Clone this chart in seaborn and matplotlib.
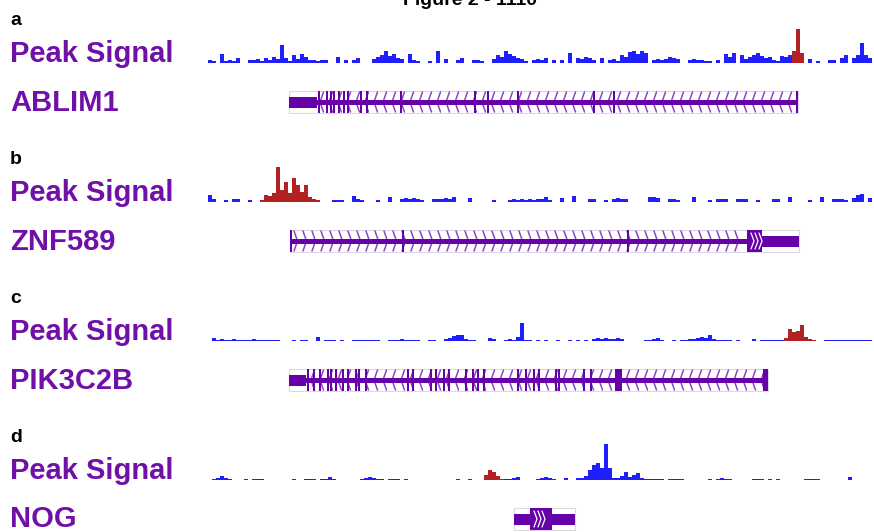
import numpy as np
import pandas as pd
import matplotlib
matplotlib.use("Agg")
import matplotlib.pyplot as plt
from matplotlib.patches import Rectangle
import seaborn as sns

# Estilo general
sns.set_theme(style="white")
plt.rcParams['font.family'] = ['Liberation Sans', 'DejaVu Sans']

BIN = 4  # ancho de cada intervalo de la señal (unidades de ventana)
WINDOW = 664

# Señal de picos por intervalo (a-d)
SIGNAL_A = [3, 2, 0, 9, 2, 3, 2, 5, 0, 0,
            3, 3, 4, 2, 5, 3, 6, 4, 18, 5,
            2, 8, 4, 9, 6, 3, 3, 2, 3, 3,
            0, 0, 6, 0, 3, 0, 3, 5, 0, 0,
            0, 4, 6, 8, 12, 7, 9, 5, 4, 0,
            9, 3, 2, 0, 0, 2, 0, 12, 0, 4,
            0, 0, 3, 5, 0, 0, 3, 3, 2, 0,
            0, 4, 8, 6, 12, 9, 7, 5, 4, 2,
            0, 3, 4, 3, 5, 0, 3, 0, 3, 0,
            10, 0, 5, 4, 6, 5, 3, 0, 5, 0,
            3, 4, 2, 8, 6, 11, 12, 9, 12, 10,
            0, 3, 4, 3, 4, 6, 5, 4, 0, 0,
            3, 4, 3, 3, 2, 2, 0, 3, 0, 9,
            6, 10, 0, 8, 4, 6, 8, 10, 7, 5,
            6, 3, 2, 7, 6, 8, 12, 34, 10, 0,
            4, 0, 2, 0, 0, 3, 3, 0, 5, 8,
            0, 5, 8, 20, 8, 5]
SIGNAL_B = [7, 3, 0, 0, 2, 0, 3, 3, 0, 0,
            2, 0, 0, 2, 7, 6, 9, 35, 12, 20,
            9, 24, 17, 10, 17, 5, 3, 2, 0, 0,
            0, 2, 2, 2, 0, 0, 6, 3, 2, 0,
            0, 0, 2, 0, 0, 5, 0, 0, 3, 4,
            3, 4, 3, 2, 0, 0, 3, 3, 3, 4,
            3, 5, 0, 0, 0, 4, 0, 0, 0, 0,
            0, 2, 0, 0, 0, 2, 3, 2, 3, 2,
            3, 2, 3, 3, 5, 2, 0, 0, 4, 0,
            0, 6, 0, 0, 0, 3, 3, 0, 0, 2,
            0, 3, 4, 3, 3, 0, 0, 0, 0, 0,
            5, 5, 4, 0, 0, 3, 3, 2, 0, 0,
            0, 5, 0, 0, 0, 2, 0, 3, 3, 3,
            0, 0, 3, 3, 3, 0, 0, 2, 0, 0,
            0, 3, 3, 0, 0, 5, 0, 0, 0, 0,
            2, 0, 0, 5, 0, 0, 3, 3, 3, 2,
            0, 4, 7, 8, 0, 4]
SIGNAL_C = [0, 3, 1, 2, 1, 1, 2, 1, 1, 1,
            1, 2, 1, 1, 1, 1, 1, 1, 0, 0,
            0, 1, 0, 1, 1, 0, 0, 4, 0, 1,
            1, 1, 0, 1, 0, 0, 1, 1, 1, 1,
            1, 1, 1, 0, 0, 1, 1, 1, 2, 1,
            1, 1, 1, 0, 0, 1, 1, 0, 0, 2,
            3, 5, 6, 6, 2, 1, 1, 0, 0, 0,
            3, 2, 0, 0, 1, 2, 1, 4, 18, 1,
            1, 0, 1, 0, 1, 0, 0, 1, 0, 0,
            1, 0, 1, 0, 1, 0, 2, 3, 2, 3,
            2, 2, 3, 2, 0, 0, 0, 0, 0, 1,
            1, 2, 3, 1, 0, 0, 1, 0, 1, 1,
            2, 2, 3, 4, 3, 6, 2, 1, 1, 1,
            1, 0, 1, 0, 0, 0, 2, 0, 1, 1,
            1, 1, 1, 1, 3, 12, 9, 10, 16, 4,
            2, 1, 0, 0, 1, 1, 1, 1, 1, 1,
            1, 1, 1, 1, 1, 1]
SIGNAL_D = [0, 1, 2, 4, 2, 1, 0, 0, 0, 1,
            0, 1, 1, 1, 0, 0, 0, 0, 0, 0,
            0, 1, 0, 0, 1, 1, 1, 0, 1, 1,
            3, 1, 0, 0, 0, 0, 0, 0, 1, 2,
            3, 2, 1, 1, 0, 1, 1, 1, 0, 1,
            0, 0, 0, 0, 0, 0, 0, 0, 0, 0,
            0, 0, 1, 0, 0, 1, 0, 0, 0, 5,
            10, 8, 4, 1, 1, 1, 2, 3, 0, 0,
            0, 0, 1, 2, 3, 2, 1, 0, 0, 2,
            0, 0, 2, 2, 4, 10, 15, 17, 12, 36,
            12, 2, 2, 4, 8, 3, 5, 7, 2, 1,
            1, 1, 1, 1, 0, 1, 1, 1, 1, 0,
            0, 0, 0, 0, 0, 1, 0, 1, 2, 1,
            1, 0, 0, 0, 0, 0, 1, 1, 1, 0,
            1, 0, 1, 0, 0, 0, 0, 0, 0, 1,
            1, 1, 1, 0, 0, 0, 0, 0, 0, 0,
            3, 0, 0, 0, 0, 0]

# Picos llamados (intervalos de índices, inclusivos)
PEAKS_A = [(146, 148)]
PEAKS_B = [(13, 27)]
PEAKS_C = [(144, 151)]
PEAKS_D = [(69, 73)]

# Genes: nombre, extensión, hebra, UTR y exones codificantes
GENE_NAMES = ["ABLIM1", "ZNF589", "PIK3C2B", "NOG"]
GENE_SPANS = [(81, 590), (82, 591), (81, 560), (306, 367)]
GENE_STRANDS = ["-", "+", "-", "+"]
UTR_ABLIM1 = [(81, 109)]
CDS_ABLIM1 = [(110, 112), (118, 120), (122, 124), (125, 127), (130, 132), (135, 137),
              (139, 141), (152, 154), (158, 160), (192, 194), (266, 268), (279, 281),
              (309, 311), (385, 387), (405, 407), (588, 590)]
UTR_ZNF589 = [(554, 591)]
CDS_ZNF589 = [(82, 84), (194, 196), (419, 421), (539, 554)]
UTR_PIK3C2B = [(81, 98)]
CDS_PIK3C2B = [(99, 101), (105, 107), (111, 113), (119, 121), (122, 124), (127, 129),
               (134, 136), (139, 141), (147, 149), (150, 152), (157, 159), (199, 201),
               (204, 206), (222, 224), (227, 229), (235, 237), (240, 242), (257, 259),
               (264, 266), (269, 271), (275, 277), (309, 311), (317, 319), (325, 327),
               (330, 332), (347, 349), (350, 352), (375, 377), (382, 384), (407, 414),
               (555, 560)]
UTR_NOG = [(306, 322), (344, 367)]
CDS_NOG = [(322, 344)]

PANEL_LABELS = ["a", "b", "c", "d"]
SIGNALS = [SIGNAL_A, SIGNAL_B, SIGNAL_C, SIGNAL_D]
PEAKS = [PEAKS_A, PEAKS_B, PEAKS_C, PEAKS_D]
UTRS = [UTR_ABLIM1, UTR_ZNF589, UTR_PIK3C2B, UTR_NOG]
CDSS = [CDS_ABLIM1, CDS_ZNF589, CDS_PIK3C2B, CDS_NOG]

PURPLE_TEXT = "#7010A8"
GENE_DARK = "#6600A8"
GENE_LIGHT = "#8E44C4"
BLUE = "#1E1EFF"
RED = "#B22222"

W, H = 874, 532
fig = plt.figure(figsize=(W / 100, H / 100), dpi=100)


def px_axes(left, top, width, height):
    # ejes definidos en pixeles de la figura
    return fig.add_axes([left / W, 1 - (top + height) / H, width / W, height / H])


def draw_signal(ax, values, peaks):
    df = pd.DataFrame({'pos': np.arange(len(values)) * BIN + BIN / 2, 'val': values})
    df['tipo'] = 'señal'
    for s, e in peaks:
        df.loc[s:e, 'tipo'] = 'pico'
    sns.barplot(data=df, x='pos', y='val', hue='tipo', native_scale=True,
                palette={'señal': BLUE, 'pico': RED}, width=1, linewidth=0,
                saturation=1, errorbar=None, legend=False, ax=ax)
    ax.set_xlim(0, WINDOW)
    ax.set_ylim(0, 40)
    ax.set_axis_off()


def draw_gene(ax, span, strand, utrs, cds):
    start, end = span
    ax.add_patch(Rectangle((start, -11), end - start, 22, fill=False,
                           ec="#dcd6e6", lw=0.8, zorder=0))
    # chevrones de dirección solo en los intrones (fuera de bloques anchos)
    blocks = [(s, e) for s, e in list(utrs) + list(cds) if e - s > 5]
    for x in np.arange(start + 4, end - 5, 9):
        if any(s - 4 <= x <= e for s, e in blocks):
            continue
        if strand == "-":
            ax.plot([x + 3.5, x, x + 3.5], [10, 0, -10], color=GENE_LIGHT, lw=1.1, zorder=1)
        else:
            ax.plot([x, x + 3.5, x], [10, 0, -10], color=GENE_LIGHT, lw=1.1, zorder=1)
    ax.add_patch(Rectangle((start, -2.5), end - start, 5, color=GENE_DARK, lw=0, zorder=2))
    for s, e in utrs:
        ax.add_patch(Rectangle((s, -5.5), e - s, 11, color=GENE_DARK, lw=0, zorder=3))
    for s, e in cds:
        ax.add_patch(Rectangle((s, -11), e - s, 22, color=GENE_DARK, lw=0, zorder=3))
        if e - s > 10:
            for k in range(3):
                x = s + 4 + k * 4
                if strand == "+":
                    ax.plot([x, x + 3, x], [8, 0, -8], color="white", lw=0.9, zorder=4)
                else:
                    ax.plot([x + 3, x, x + 3], [8, 0, -8], color="white", lw=0.9, zorder=4)
    ax.set_xlim(0, WINDOW)
    ax.set_ylim(-12, 12)
    ax.set_axis_off()


fig.text(470 / W, 1 - 5 / H, "Figure 2 - 1110", ha="center", va="baseline",
         fontsize=14, fontweight="bold", color="black")

for i in range(4):
    off = 139 * i
    fig.text(10 / W, 1 - (25 + off) / H, PANEL_LABELS[i], ha="left", va="baseline",
             fontsize=14, fontweight="bold", color="black")
    fig.text(10 / W, 1 - (62 + off) / H, "Peak Signal", ha="left", va="baseline",
             fontsize=21, fontweight="bold", color=PURPLE_TEXT)
    fig.text(10 / W, 1 - (111 + off - (1 if i == 3 else 0)) / H, GENE_NAMES[i],
             ha="left", va="baseline", fontsize=21, fontweight="bold", color=PURPLE_TEXT)

    ax_sig = px_axes(208, 63 + off - 40, WINDOW, 40)
    draw_signal(ax_sig, SIGNALS[i], PEAKS[i])

    ax_gene = px_axes(208, 102 + off - 12, WINDOW, 24)
    draw_gene(ax_gene, GENE_SPANS[i], GENE_STRANDS[i], UTRS[i], CDSS[i])

fig.savefig("out.png", dpi=100)
plt.close(fig)
